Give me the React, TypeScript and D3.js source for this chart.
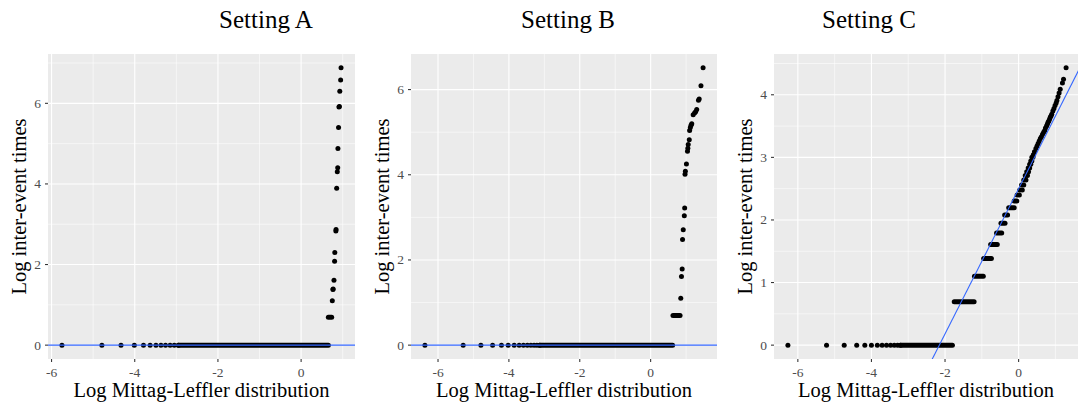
import React from "react";
import * as d3 from "d3";

// ---------- DATA ----------
// Setting A
const aZeroX = [-5.75, -4.79, -4.33, -4.01, -3.79, -3.63, -3.49, -3.37, -3.26, -3.15, -3.05, -2.95];
const aUpperX = [0.96, 0.95, 0.93, 0.92, 0.91, 0.9, 0.885, 0.88, 0.87, 0.855, 0.84, 0.835, 0.81, 0.805, 0.79, 0.77, 0.765, 0.75];
const aUpperY = [6.88, 6.58, 6.3, 5.92, 5.91, 5.4, 4.88, 4.4, 4.3, 3.89, 2.87, 2.83, 2.3, 2.08, 1.61, 1.39, 1.38, 1.1];
const aRunY = [0, 0.693];
const aRunX0 = [-2.95, 0.655];
const aRunX1 = [0.655, 0.735];
const aLine = [0, 0]; // intercept, slope

// Setting B
const bZeroX = [-6.37, -5.29, -4.79, -4.46, -4.21, -4.02, -3.85, -3.71, -3.59, -3.48, -3.38, -3.29, -3.21, -3.13];
const bUpperX = [1.48, 1.42, 1.37, 1.35, 1.3, 1.27, 1.24, 1.2, 1.16, 1.14, 1.12, 1.1, 1.09, 1.06, 1.05, 1.04, 1.01, 0.98, 0.97, 0.96, 0.95, 0.92, 0.9, 0.89, 0.87, 0.85];
const bUpperY = [6.51, 6.09, 5.78, 5.75, 5.53, 5.48, 5.45, 5.41, 5.2, 5.16, 5.11, 5.04, 4.82, 4.71, 4.62, 4.55, 4.25, 4.08, 4.01, 3.22, 3.04, 2.71, 2.48, 1.79, 1.61, 1.1];
const bRunY = [0, 0.693];
const bRunX0 = [-3.13, 0.63];
const bRunX1 = [0.62, 0.83];
const bLine = [0, 0];

// Setting C
const cZeroX = [-6.27, -5.22, -4.74, -4.4, -4.18, -4.0, -3.84, -3.71, -3.59, -3.48, -3.38, -3.29, -3.21];
const cRunY = [0, 0.693, 1.099, 1.386, 1.609, 1.792, 1.946, 2.079, 2.197, 2.303];
const cRunX0 = [-3.21, -1.75, -1.2, -0.95, -0.76, -0.6, -0.48, -0.38, -0.27, -0.12];
const cRunX1 = [-1.8, -1.21, -0.96, -0.74, -0.58, -0.46, -0.37, -0.3, -0.12, -0.05];
const cUpperX = [-0.04, 0.02, 0.03, 0.1, 0.08, 0.14, 0.14, 0.2, 0.18, 0.24, 0.22, 0.27, 0.26, 0.3, 0.3, 0.33, 0.33, 0.36, 0.36, 0.39,
  0.4, 0.43, 0.47, 0.5, 0.53, 0.56, 0.59, 0.62, 0.65, 0.68, 0.71, 0.73, 0.76, 0.78, 0.8, 0.82, 0.84, 0.86, 0.88, 0.9,
  0.93, 0.96, 0.99, 1.02, 1.04, 1.07, 1.1, 1.13, 1.19, 1.22, 1.29];
const cUpperY = [2.4, 2.4, 2.48, 2.48, 2.56, 2.56, 2.64, 2.64, 2.71, 2.71, 2.77, 2.77, 2.83, 2.83, 2.89, 2.89, 2.94, 2.94, 3.0, 3.0,
  3.04, 3.09, 3.14, 3.18, 3.22, 3.26, 3.3, 3.33, 3.37, 3.4, 3.43, 3.47, 3.5, 3.53, 3.56, 3.58, 3.61, 3.64, 3.66, 3.69,
  3.74, 3.78, 3.83, 3.87, 3.91, 3.97, 4.03, 4.09, 4.19, 4.25, 4.43];
const cLine = [2.5, 1.16];

const titles = ["Setting A", "Setting B", "Setting C"];
const xLabel = "Log Mittag-Leffler distribution";
const yLabel = "Log inter-event times";
const xMajorTicks = [-6, -4, -2, 0];
const xMinorTicks = [-7, -5, -3, -1, 1];
const aYMajor = [0, 2, 4, 6];
const aYMinor = [1, 3, 5, 7];
const bYMajor = [0, 2, 4, 6];
const bYMinor = [1, 3, 5];
const cYMajor = [0, 1, 2, 3, 4];
const cYMinor = [0.5, 1.5, 2.5, 3.5, 4.5];

// ---------- LAYOUT ----------
const W = 1078;
const H = 403;
const FONT = "'Liberation Serif', 'DejaVu Serif', serif";
const R = 2.5;

type PanelProps = {
  id: string;
  left: number;
  right: number;
  top: number;
  bottom: number;
  title: string;
  titleX: number;
  zeroX: number[];
  upperX: number[];
  upperY: number[];
  runY: number[];
  runX0: number[];
  runX1: number[];
  line: number[];
  yMajor: number[];
  yMinor: number[];
};

function Panel(p: PanelProps) {
  const allX = [...p.zeroX, ...p.upperX, ...p.runX0, ...p.runX1];
  const allY = [0, ...p.upperY, ...p.runY];
  const [x0, x1] = d3.extent(allX) as [number, number];
  const [y0, y1] = d3.extent(allY) as [number, number];
  const dx = (x1 - x0) * 0.05;
  const dy = (y1 - y0) * 0.05;
  const xs = d3.scaleLinear().domain([x0 - dx, x1 + dx]).range([p.left, p.right]);
  const ys = d3.scaleLinear().domain([y0 - dy, y1 + dy]).range([p.bottom, p.top]);
  const [dxMin, dxMax] = xs.domain();
  const inX = (v: number) => v >= dxMin && v <= dxMax;
  const [dyMin, dyMax] = ys.domain();
  const inY = (v: number) => v >= dyMin && v <= dyMax;
  const lineGen = d3.line<number>().x((v) => xs(v)).y((v) => ys(p.line[0] + p.line[1] * v));
  const midY = (p.top + p.bottom) / 2;
  const midX = (p.left + Math.min(p.right, W)) / 2;
  return (
    <g>
      <defs>
        <clipPath id={p.id}>
          <rect x={p.left} y={p.top} width={p.right - p.left} height={p.bottom - p.top} />
        </clipPath>
      </defs>
      <text x={p.titleX} y={28} fontFamily={FONT} fontSize={25} textAnchor="middle" fill="#000">
        {p.title}
      </text>
      <rect x={p.left} y={p.top} width={p.right - p.left} height={p.bottom - p.top} fill="#EBEBEB" />
      {xMinorTicks.filter(inX).map((t) => (
        <line key={"xm" + t} x1={xs(t)} x2={xs(t)} y1={p.top} y2={p.bottom} stroke="#fff" strokeWidth={0.55} />
      ))}
      {p.yMinor.filter(inY).map((t) => (
        <line key={"ym" + t} x1={p.left} x2={p.right} y1={ys(t)} y2={ys(t)} stroke="#fff" strokeWidth={0.55} />
      ))}
      {xMajorTicks.filter(inX).map((t) => (
        <line key={"xM" + t} x1={xs(t)} x2={xs(t)} y1={p.top} y2={p.bottom} stroke="#fff" strokeWidth={1.1} />
      ))}
      {p.yMajor.filter(inY).map((t) => (
        <line key={"yM" + t} x1={p.left} x2={p.right} y1={ys(t)} y2={ys(t)} stroke="#fff" strokeWidth={1.1} />
      ))}
      <g clipPath={`url(#${p.id})`}>
        {p.runY.map((y, i) => (
          <line key={"r" + i} x1={xs(p.runX0[i])} x2={xs(p.runX1[i])} y1={ys(y)} y2={ys(y)}
            stroke="#000" strokeWidth={2 * R} strokeLinecap="round" />
        ))}
        {p.zeroX.map((x, i) => (
          <circle key={"z" + i} cx={xs(x)} cy={ys(0)} r={R} fill="#000" />
        ))}
        {p.upperX.map((x, i) => (
          <circle key={"u" + i} cx={xs(x)} cy={ys(p.upperY[i])} r={R} fill="#000" />
        ))}
        <path d={lineGen([dxMin, dxMax]) || ""} stroke="#3366FF" strokeWidth={1.07} fill="none" />
      </g>
      {/* axes ticks */}
      {xMajorTicks.filter(inX).map((t) => (
        <g key={"xt" + t}>
          <line x1={xs(t)} x2={xs(t)} y1={p.bottom} y2={p.bottom + 3} stroke="#333" strokeWidth={1.07} />
          <text x={xs(t)} y={p.bottom + 18} fontFamily={FONT} fontSize={13.5} fill="#4D4D4D" textAnchor="middle">
            {String(t)}
          </text>
        </g>
      ))}
      {p.yMajor.filter(inY).map((t) => (
        <g key={"yt" + t}>
          <line x1={p.left - 3} x2={p.left} y1={ys(t)} y2={ys(t)} stroke="#333" strokeWidth={1.07} />
          <text x={p.left - 7} y={ys(t) + 4.5} fontFamily={FONT} fontSize={13.5} fill="#4D4D4D" textAnchor="end">
            {String(t)}
          </text>
        </g>
      ))}
      <text x={midX} y={397} fontFamily={FONT} fontSize={20.5} textAnchor="middle" fill="#000">
        {xLabel}
      </text>
      <text transform={`translate(${p.left - 22},${midY}) rotate(-90)`} fontFamily={FONT} fontSize={20.5}
        textAnchor="middle" fill="#000">
        {yLabel}
      </text>
    </g>
  );
}

export default function App() {
  return (
    <svg width={W} height={H} style={{ position: "absolute", left: 0, top: 0, background: "#fff" }}>
      <rect x={0} y={0} width={W} height={H} fill="#fff" />
      <Panel id="cpA" left={48} right={355} top={54} bottom={359} title={titles[0]} titleX={266}
        zeroX={aZeroX} upperX={aUpperX} upperY={aUpperY} runY={aRunY} runX0={aRunX0} runX1={aRunX1}
        line={aLine} yMajor={aYMajor} yMinor={aYMinor} />
      <Panel id="cpB" left={411} right={717} top={54} bottom={359} title={titles[1]} titleX={568}
        zeroX={bZeroX} upperX={bUpperX} upperY={bUpperY} runY={bRunY} runX0={bRunX0} runX1={bRunX1}
        line={bLine} yMajor={bYMajor} yMinor={bYMinor} />
      <Panel id="cpC" left={774} right={1080} top={54} bottom={359} title={titles[2]} titleX={869}
        zeroX={cZeroX} upperX={cUpperX} upperY={cUpperY} runY={cRunY} runX0={cRunX0} runX1={cRunX1}
        line={cLine} yMajor={cYMajor} yMinor={cYMinor} />
    </svg>
  );
}
